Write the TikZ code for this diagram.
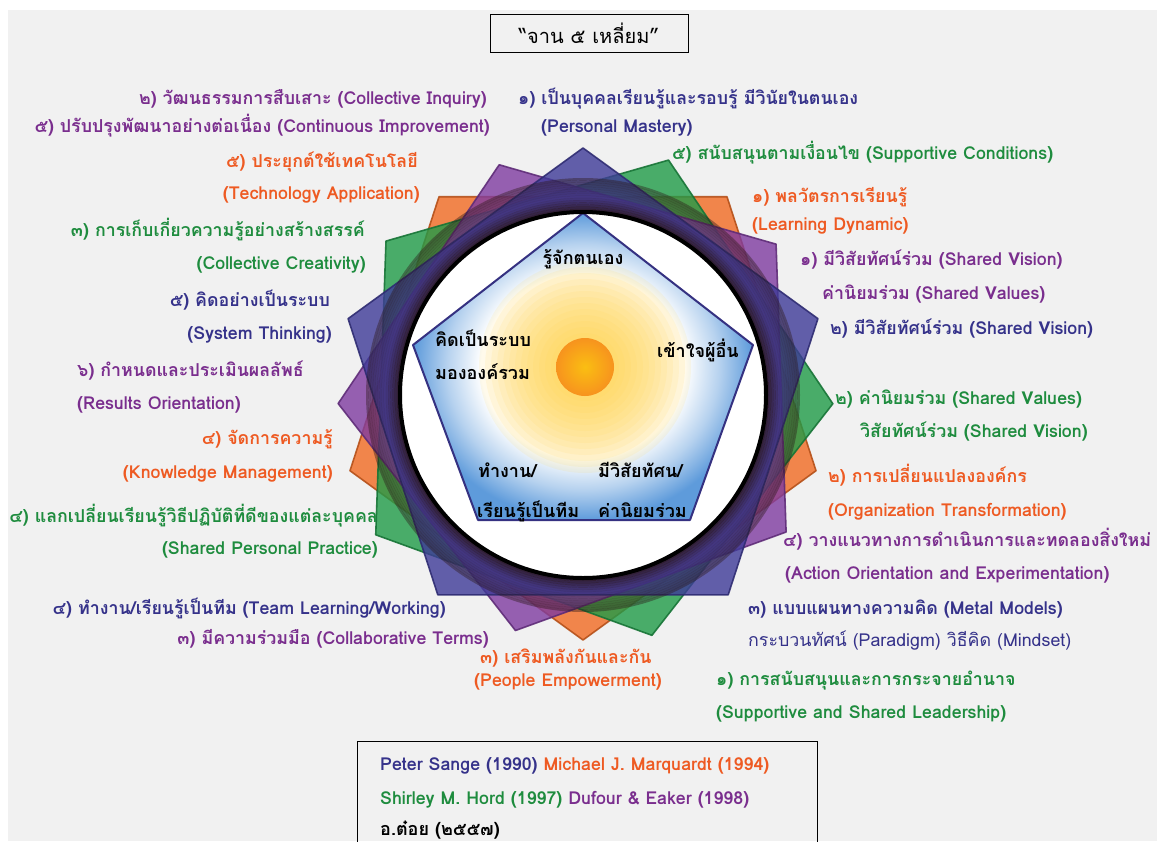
\documentclass[tikz,border=0pt]{standalone}
\usepackage{fontspec}
\setmainfont{Loma}[Script=Thai]
\usepackage{tikz}
\usetikzlibrary{positioning, calc}
\usepackage{xcolor}
\definecolor{bggray}{HTML}{F1F1F1}
\definecolor{navyc}{HTML}{3E3A98}
\definecolor{purplec}{HTML}{7F3BA0}
\definecolor{greenc}{HTML}{1F9B48}
\definecolor{orangec}{HTML}{F26B22}
\definecolor{navyt}{HTML}{35328A}
\definecolor{purplet}{HTML}{7A2E8E}
\definecolor{greent}{HTML}{1E8C3E}
\definecolor{oranget}{HTML}{EE5A22}
\definecolor{pentblue}{HTML}{5E9BDB}
\definecolor{sunyellow}{HTML}{FFD54A}
\definecolor{sunorange}{HTML}{F7931E}
\definecolor{ringdark}{HTML}{2A1616}
\pgfdeclareradialshading{pentglow}{\pgfpoint{0bp}{0bp}}{color(0bp)=(white); color(15bp)=(white); color(20bp)=(pentblue!45); color(25bp)=(pentblue); color(50bp)=(pentblue)}
\tikzstyle{lbl} = [inner sep=0pt, font=\fontsize{17.8}{22}\selectfont\bfseries]
\tikzstyle{navylbl} = [lbl, text=navyt]
\tikzstyle{purplelbl} = [lbl, text=purplet]
\tikzstyle{greenlbl} = [lbl, text=greent]
\tikzstyle{orangelbl} = [lbl, text=oranget]
\tikzstyle{innerlbl} = [lbl, text=black, font=\fontsize{18}{22}\selectfont\bfseries]
\tikzstyle{petal} = [line width=1.6pt, fill opacity=0.8, draw opacity=0.9, line join=round]

\begin{document}
\begin{tikzpicture}[x=1pt, y=-1pt]
        \useasboundingbox (0,0) rectangle (1157,841);
        \fill[white] (0,0) rectangle (1157,841);
        \fill[bggray] (8,10) rectangle (1157,841);

        % Title
        \node (title) [draw, line width=1pt, fill=bggray, minimum width=198pt, minimum height=38pt, font=\fontsize{20}{24}\selectfont] at (589,33) {“จาน ๕ เหลี่ยม”};

        % Four outer pentagons
        \coordinate (ctr) at (583,395);
        \begin{scope}[shift={(583,395)}]
        \foreach \rot/\rad/\col in {-90/245/orangec, 70/250/greenc, 110/245/purplec, 90/247/navyc}
            \draw[petal, draw=\col!75!black, fill=\col, rotate=\rot] (0:\rad) -- (72:\rad) -- (144:\rad) -- (216:\rad) -- (288:\rad) -- cycle;

        % Ring
        \foreach \i in {0,...,14} {
            \pgfmathsetmacro\op{ifthenelse(\i<6, 0.72-0.1*\i, 0.16+0.03*(\i-6))}
            \pgfmathsetmacro\rr{185+2.2*\i}
            \draw[ringdark, line width=2.4pt, opacity=\op] (0,0) circle (\rr pt);
        }
        \fill[white] (0,0) circle (184pt);
        \end{scope}

        % Inner pentagon
        \coordinate (p1) at (583,213);
        \coordinate (p2) at (753,345);
        \coordinate (p3) at (690,520);
        \coordinate (p4) at (478,520);
        \coordinate (p5) at (413,345);
        \shade[shading=pentglow] (p1) -- (p2) -- (p3) -- (p4) -- (p5) -- cycle;

        % Sun
        \coordinate (sun) at (585,367);
        \foreach \r in {106,100,...,34}
            \fill[sunyellow, opacity=0.11] (sun) circle (\r pt);
        \shade[inner color=sunorange!60!yellow, outer color=sunorange] (sun) circle (29pt);

        \draw[navyc!85!black, line width=2pt, line join=round] (p1) -- (p2) -- (p3) -- (p4) -- (p5) -- cycle;
        \draw[black, line width=4pt] (ctr) circle (183pt);

        % Inner texts
        \node (self) [innerlbl, anchor=base] at (583,264) {รู้จักตนเอง};
        \node (sys1) [innerlbl, anchor=base west] at (435,346) {คิดเป็นระบบ};
        \node (sys2) [innerlbl, anchor=base west] at (435,379) {มององค์รวม};
        \node (other) [innerlbl, anchor=base] at (698,357) {เข้าใจผู้อื่น};
        \node (team1) [innerlbl, anchor=base west] at (478,477) {ทำงาน/};
        \node (team2) [innerlbl, anchor=base west] at (477,517) {เรียนรู้เป็นทีม};
        \node (vis1) [innerlbl, anchor=base west] at (598,477) {มีวิสัยทัศน/};
        \node (vis2) [innerlbl, anchor=base west] at (598,517) {ค่านิยมร่วม};

        % Left labels
        \node (inquiry) [purplelbl, anchor=base east] at (487,104) {๒) วัฒนธรรมการสืบเสาะ (Collective Inquiry)};
        \node (improve) [purplelbl, anchor=base east] at (490,132) {๕) ปรับปรุงพัฒนาอย่างต่อเนื่อง (Continuous Improvement)};
        \node (tech1) [orangelbl, anchor=base east] at (418,167) {๕) ประยุกต์ใช้เทคโนโลยี};
        \node (tech2) [orangelbl, anchor=base east] at (420,199) {(Technology Application)};
        \node (creat1) [greenlbl, anchor=base east] at (365,236) {๓) การเก็บเกี่ยวความรู้อย่างสร้างสรรค์};
        \node (creat2) [greenlbl, anchor=base east] at (366,269) {(Collective Creativity)};
        \node (systh1) [navylbl, anchor=base east] at (330,306) {๕) คิดอย่างเป็นระบบ};
        \node (systh2) [navylbl, anchor=base east] at (332,339) {(System Thinking)};
        \node (result1) [purplelbl, anchor=base west] at (77,376) {๖) กำหนดและประเมินผลลัพธ์};
        \node (result2) [purplelbl, anchor=base west] at (77,409) {(Results Orientation)};
        \node (km1) [orangelbl, anchor=base east] at (333,444) {๔) จัดการความรู้};
        \node (km2) [orangelbl, anchor=base east] at (333,478) {(Knowledge Management)};
        \node (spp1) [greenlbl, anchor=base east] at (378,522) {๔) แลกเปลี่ยนเรียนรู้วิธีปฏิบัติที่ดีของแต่ละบุคคล};
        \node (spp2) [greenlbl, anchor=base east] at (378,554) {(Shared Personal Practice)};
        \node (teamlw) [navylbl, anchor=base east] at (446,614) {๔) ทำงาน/เรียนรู้เป็นทีม (Team Learning/Working)};
        \node (collab) [purplelbl, anchor=base east] at (489,644) {๓) มีความร่วมมือ (Collaborative Terms)};

        % Bottom labels
        \node (emp1) [orangelbl, anchor=base west] at (480,663) {๓) เสริมพลังกันและกัน};
        \node (emp2) [orangelbl, anchor=base west] at (474,686) {(People Empowerment)};

        % Right labels
        \node (pm1) [navylbl, anchor=base west] at (518,104) {๑) เป็นบุคคลเรียนรู้และรอบรู้ มีวินัยในตนเอง};
        \node (pm2) [navylbl, anchor=base west] at (541,132) {(Personal Mastery)};
        \node (supcond) [greenlbl, anchor=base west] at (672,159) {๕) สนับสนุนตามเงื่อนไข (Supportive Conditions)};
        \node (dyn1) [orangelbl, anchor=base west] at (752,202) {๑) พลวัตรการเรียนรู้};
        \node (dyn2) [orangelbl, anchor=base west] at (752,230) {(Learning Dynamic)};
        \node (shv1) [purplelbl, anchor=base west] at (800,265) {๑) มีวิสัยทัศน์ร่วม (Shared Vision)};
        \node (shv2) [purplelbl, anchor=base west] at (822,299) {ค่านิยมร่วม (Shared Values)};
        \node (shvis) [navylbl, anchor=base west] at (830,334) {๒) มีวิสัยทัศน์ร่วม (Shared Vision)};
        \node (shval1) [greenlbl, anchor=base west] at (835,404) {๒) ค่านิยมร่วม (Shared Values)};
        \node (shval2) [greenlbl, anchor=base west] at (860,437) {วิสัยทัศน์ร่วม (Shared Vision)};
        \node (org1) [orangelbl, anchor=base west] at (828,482) {๒) การเปลี่ยนแปลงองค์กร};
        \node (org2) [orangelbl, anchor=base west] at (828,516) {(Organization Transformation)};
        \node (act1) [purplelbl, anchor=base west] at (783,546) {๔) วางแนวทางการดำเนินการและทดลองสิ่งใหม่};
        \node (act2) [purplelbl, anchor=base west] at (785,579) {(Action Orientation and Experimentation)};
        \node (mm1) [navylbl, anchor=base west] at (748,614) {๓) แบบแผนทางความคิด (Metal Models)};
        \node (mm2) [navylbl, anchor=base west, font=\fontsize{17.8}{22}\selectfont] at (748,646) {กระบวนทัศน์ (Paradigm) วิธีคิด (Mindset)};
        \node (lead1) [greenlbl, anchor=base west] at (716,685) {๑) การสนับสนุนและการกระจายอำนาจ};
        \node (lead2) [greenlbl, anchor=base west] at (716,718) {(Supportive and Shared Leadership)};

        % Sources box
        \draw[line width=1pt] (357,845) -- (357,741) -- (817,741) -- (817,845);
        \node (src1) [navylbl, anchor=base west] at (380,770) {Peter Sange (1990) \textcolor{oranget}{Michael J. Marquardt (1994)}};
        \node (src2) [greenlbl, anchor=base west] at (380,804) {Shirley M. Hord (1997) \textcolor{purplet}{Dufour \& Eaker (1998)}};
        \node (src3) [innerlbl, anchor=base west] at (380,835) {อ.ต๋อย (๒๕๕๗)};
    \end{tikzpicture}
\end{document}
